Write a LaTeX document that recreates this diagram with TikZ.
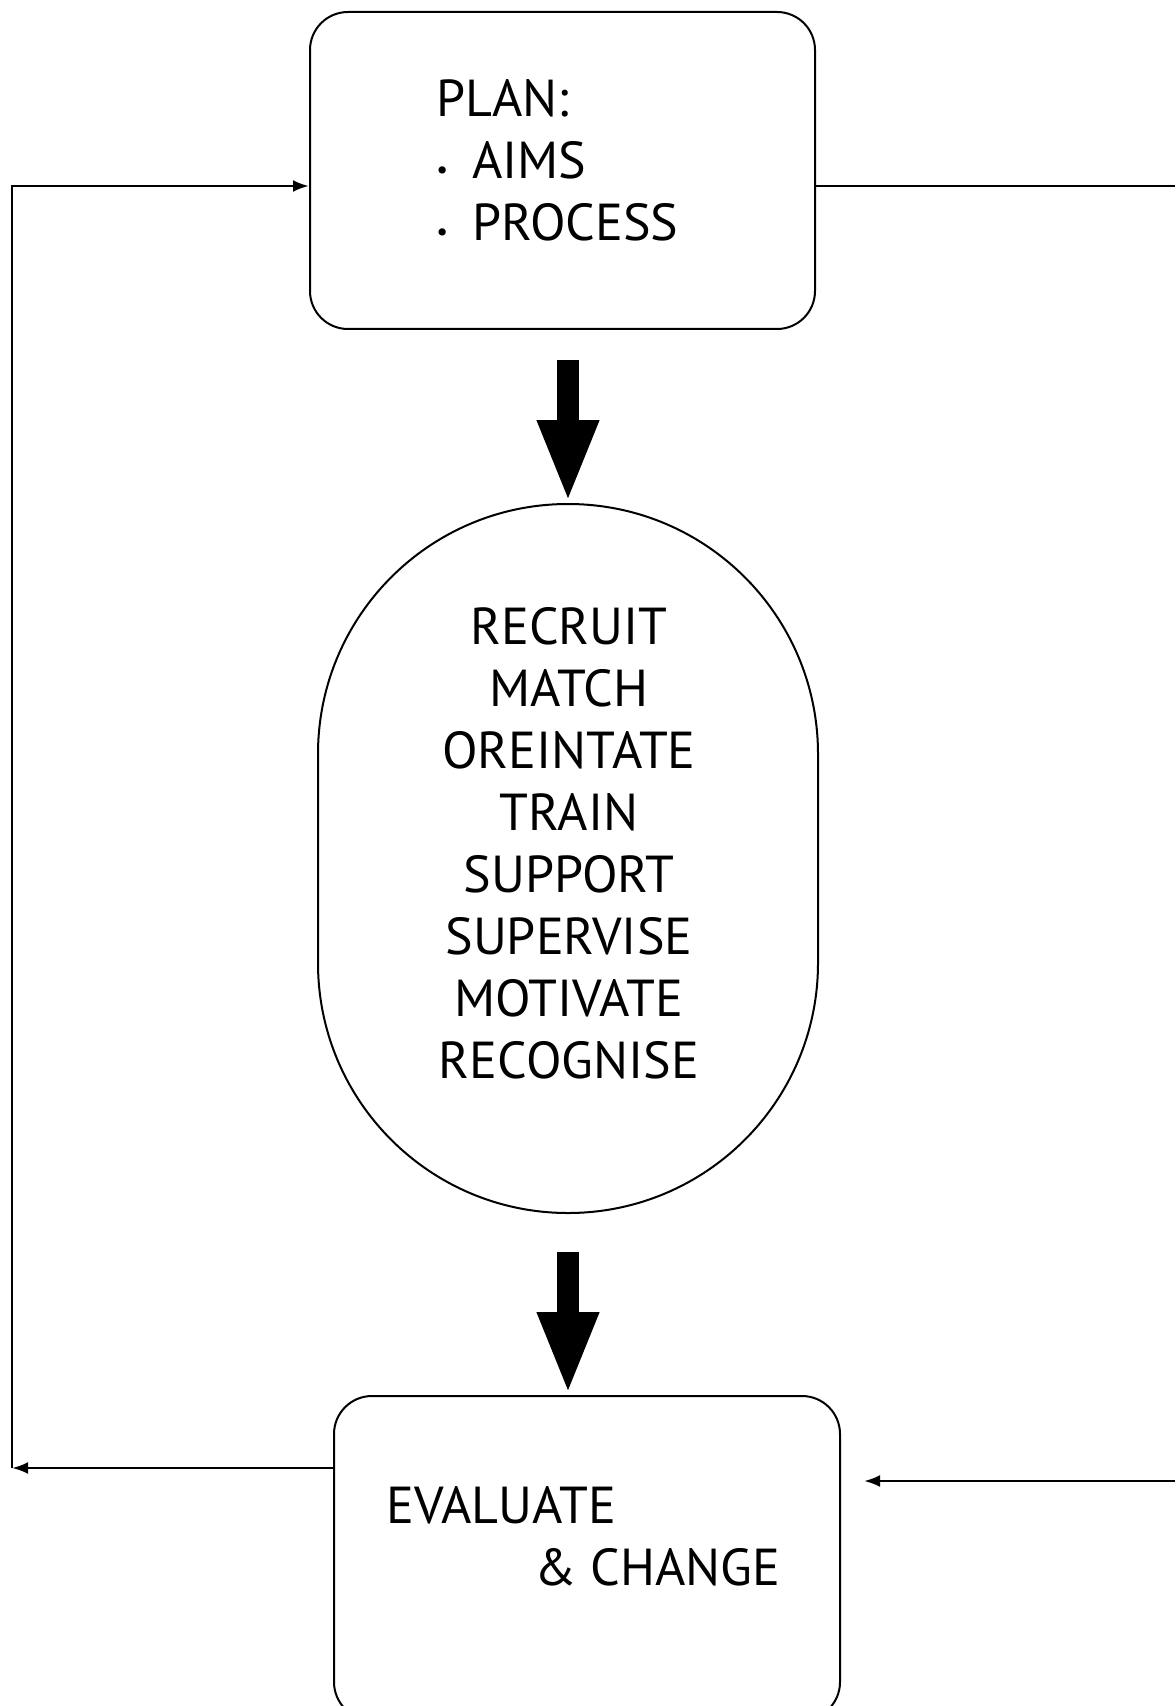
\documentclass[tikz,border=0pt]{standalone}
\usepackage{fontspec}
\setmainfont{PT Sans}
\usetikzlibrary{arrows.meta, positioning}
\tikzset{
  box/.style={draw, rounded corners=19pt, line width=1pt, minimum width=252.5pt, minimum height=158.5pt},
  blob/.style={draw, rounded corners=125pt, line width=1pt, minimum width=250pt, minimum height=354.5pt},
  txt/.style={inner sep=0pt, font=\fontsize{26}{31}\selectfont},
  bigarrow/.style={line width=11pt, -{Triangle[length=41.5pt,width=28pt]}},
}
\newcommand{\bul}{\makebox[18pt][l]{{\fontsize{13}{13}\selectfont •}}}

\begin{document}
\begin{tikzpicture}[x=0.5pt, y=-0.5pt, >={Latex[length=8pt,width=6pt]}, line width=1.3pt]
\clip (0,0) rectangle (1175,1706);
\node[box] (plan) at (562.5,170.5) {};
\node[blob] (cycle) at (568,858.5) {};
\node[box, minimum width=253pt, minimum height=162pt] (eval) at (587,1558) {};
\node[txt, align=left, anchor=north west] (plantxt) at (435,78) {PLAN:\\\bul AIMS\\\bul PROCESS};
\node[txt, align=center, anchor=north] (cycletxt) at (569,606) {RECRUIT\\MATCH\\OREINTATE\\TRAIN\\SUPPORT\\SUPERVISE\\MOTIVATE\\RECOGNISE};
\node[txt, align=left, anchor=north west] (evaltxt) at (385,1485) {EVALUATE\\\hspace*{74pt}\& CHANGE};
% big arrows down the middle
\coordinate (a1) at ([yshift=-15pt]cycle.north |- plan.south);
\coordinate (a2) at ([yshift=-19pt]cycle.south);
\draw[bigarrow] (a1) -- (cycle.north);
\draw[bigarrow] (a2) -- (cycle.south |- eval.north);
% feedback lines
\coordinate (rtop) at (1175,186);
\coordinate (rbot) at (1175,1481);
\coordinate (lbot) at (12,1468);
\draw (plan.east |- rtop) -- (rtop);
\draw[->] (rbot) -- ([xshift=11.5pt]eval.east |- rbot);
\draw[->] (eval.west |- lbot) -- (lbot);
\draw[->] (lbot) -- (lbot |- rtop) -- (plan.west |- rtop);
\end{tikzpicture}
\end{document}
